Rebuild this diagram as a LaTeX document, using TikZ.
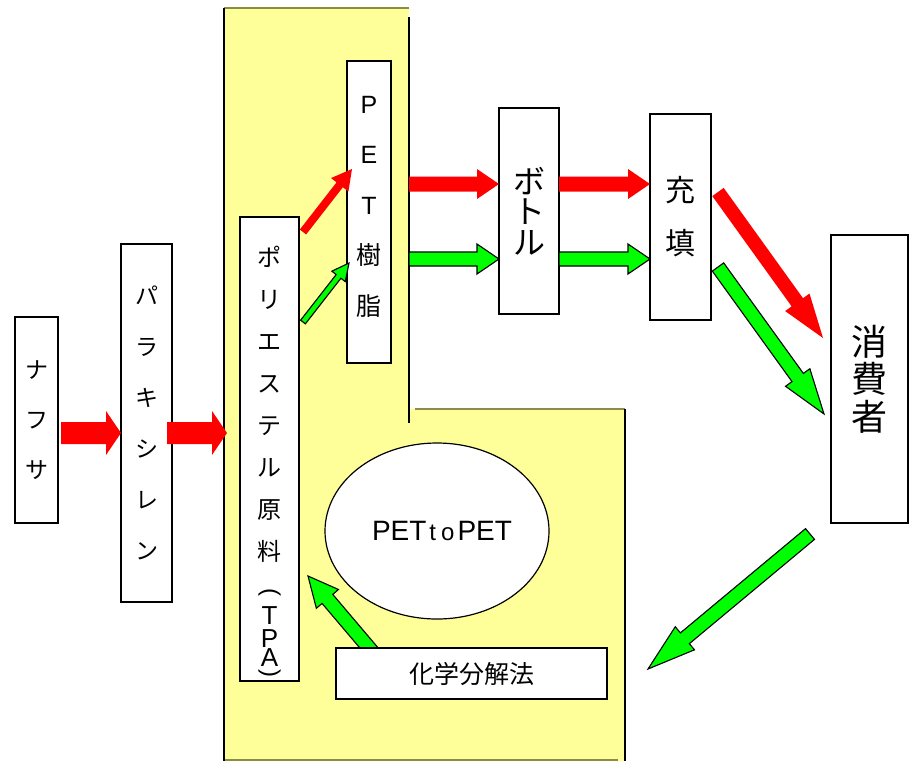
\documentclass[tikz,border=0pt]{standalone}
\usepackage{fontspec}
\usepackage{graphicx}
\setmainfont{Noto Sans CJK JP}
\newfontfamily\latinfont{Liberation Sans}
\usetikzlibrary{calc,shapes.geometric}

\definecolor{padyellow}{HTML}{FFFF99}
\definecolor{padedge}{HTML}{8C8C46}
\definecolor{flowred}{HTML}{FF0000}
\definecolor{flowgreen}{HTML}{00FF00}

% Block arrow: style, tail, tip, shaft half width, head half width, head length.
\newcommand{\flowarrow}[6]{%
	\coordinate (fa-neck) at ($(#3)!#6!(#2)$);
	\path[#1] ($(#2)!#4!90:(#3)$) -- ($(fa-neck)!#4!90:(#3)$)
		-- ($(fa-neck)!#5!90:(#3)$) -- (#3) -- ($(fa-neck)!#5!-90:(#3)$)
		-- ($(fa-neck)!#4!-90:(#3)$) -- ($(#2)!#4!-90:(#3)$) -- cycle;
}

\begin{document}
\begin{tikzpicture}[
			x=1pt, y=-1pt,
			box/.style = {draw, fill=white, line width=1.6pt, inner sep=0pt, align=center},
			redflow/.style = {fill=flowred},
			greenflow/.style = {fill=flowgreen, draw=black, line width=1.1pt, line join=miter}
		]
		\useasboundingbox (0,0) rectangle (909,761);
		% Recycling area.
		\fill[padyellow] (224,8) -- (409,8) -- (409,409) -- (625,409) -- (625,761) -- (224,761) -- cycle;
		\draw[padedge, line width=1.4pt] (224,8) -- (409,8);
		\draw[padedge, line width=1.4pt] (415,409) -- (625,409);
		\draw[padedge, line width=1.4pt] (224,760) -- (618,760);
		\draw[line width=2pt] (224,8) -- (224,761);
		\draw[line width=2pt] (409,17) -- (409,423);
		\draw[line width=2pt] (625,409) -- (625,761);
		
		% Arrow ends.
		\coordinate (naphtha-out) at (61,433);
		\coordinate (pxylene-in) at (121,433);
		\coordinate (pxylene-out) at (167,433);
		\coordinate (tpa-in) at (227,433);
		\coordinate (tpa-red) at (303,232);
		\coordinate (resin-red) at (352,169);
		\coordinate (tpa-green) at (303,322);
		\coordinate (resin-green) at (349,263);
		\coordinate (resin-redout) at (409,184);
		\coordinate (bottle-redin) at (499,184);
		\coordinate (resin-greenout) at (409,259);
		\coordinate (bottle-greenin) at (499,259);
		\coordinate (bottle-redout) at (559,184);
		\coordinate (filling-redin) at (650,184);
		\coordinate (bottle-greenout) at (559,259);
		\coordinate (filling-greenin) at (650,259);
		\coordinate (filling-redout) at (718,192);
		\coordinate (consumer-redin) at (823,338);
		\coordinate (filling-greenout) at (718,267);
		\coordinate (consumer-greenin) at (824,414);
		\coordinate (consumer-out) at (810,534);
		\coordinate (chem-in) at (648,669);
		\coordinate (chem-out) at (375,655);
		\coordinate (tpa-back) at (308,576);
		
		% Chemical recycling back to the raw material.
		\flowarrow{greenflow}{chem-out}{tpa-back}{7pt}{14.5pt}{30pt}
		
		% Boxes.
		\node[box, minimum width=43, minimum height=206, font=\fontsize{23}{50}\selectfont] (naphtha) at (36.5,420) {ナ\\フ\\サ};
		\node[box, minimum width=51, minimum height=358, font=\fontsize{23}{51}\selectfont] (pxylene) at (146.5,423) {パ\\ラ\\キ\\シ\\レ\\ン};
		\node[box, minimum width=59, minimum height=464, font=\fontsize{24}{42}\selectfont] (tpa) at (269.5,449)
			{\rule{0pt}{48pt}ポ\\リ\\エ\\ス\\テ\\ル\\原\\料\\[-4pt]\rotatebox[origin=c]{-90}{\latinfont(}\\[-16pt]%
			{\latinfont\fontsize{26}{24}\selectfont T}\\[-19pt]{\latinfont\fontsize{26}{24}\selectfont P}\\[-23pt]%
			{\latinfont\fontsize{26}{24}\selectfont A}\\[-29pt]\rotatebox[origin=c]{-90}{\latinfont)}};
		\node[box, minimum width=44, minimum height=302, font=\fontsize{25}{50.5}\selectfont] (resin) at (369,212)
			{{\latinfont P}\\{\latinfont E}\\{\latinfont T}\\樹\\脂\rule[-13pt]{0pt}{13pt}};
		\node[box, minimum width=60, minimum height=206, font=\fontsize{32}{30.5}\selectfont] (bottle) at (529,211) {ボ\\ト\\ル};
		\node[box, minimum width=61, minimum height=206, font=\fontsize{30}{53}\selectfont] (filling) at (680.5,217) {充\\填};
		\node[box, minimum width=77, minimum height=288, font=\fontsize{36}{37.5}\selectfont] (consumer) at (869.5,379) {消\\費\\者};
		\node[box, minimum width=271, minimum height=51, font=\fontsize{25}{30}\selectfont] (chem) at (471.5,673.5) {化学分解法};
		\node[ellipse, draw, fill=white, line width=1.2pt, minimum width=224, minimum height=176,
			font=\latinfont\fontsize{28}{30}\selectfont] (loop) at (437,531)
			{\hspace{10pt}PET\hspace{3pt}{\fontsize{24}{30}\selectfont t\hspace{5pt}o}\hspace{3pt}PET};
		
		% Flows.
		\flowarrow{redflow}{naphtha-out}{pxylene-in}{11pt}{22pt}{15pt}
		\flowarrow{redflow}{pxylene-out}{tpa-in}{11pt}{22pt}{15pt}
		\flowarrow{redflow}{tpa-red}{resin-red}{4pt}{11pt}{20pt}
		\flowarrow{greenflow}{tpa-green}{resin-green}{3pt}{8.5pt}{17pt}
		\flowarrow{redflow}{resin-redout}{bottle-redin}{7.5pt}{15pt}{22pt}
		\flowarrow{greenflow}{resin-greenout}{bottle-greenin}{7pt}{15pt}{22pt}
		\flowarrow{redflow}{bottle-redout}{filling-redin}{7.5pt}{15pt}{22pt}
		\flowarrow{greenflow}{bottle-greenout}{filling-greenin}{7pt}{15pt}{22pt}
		\flowarrow{redflow}{filling-redout}{consumer-redin}{7pt}{15pt}{44pt}
		\flowarrow{greenflow}{filling-greenout}{consumer-greenin}{7pt}{15pt}{45pt}
		\flowarrow{greenflow}{consumer-out}{chem-in}{7pt}{15pt}{48pt}
	\end{tikzpicture}
\end{document}
